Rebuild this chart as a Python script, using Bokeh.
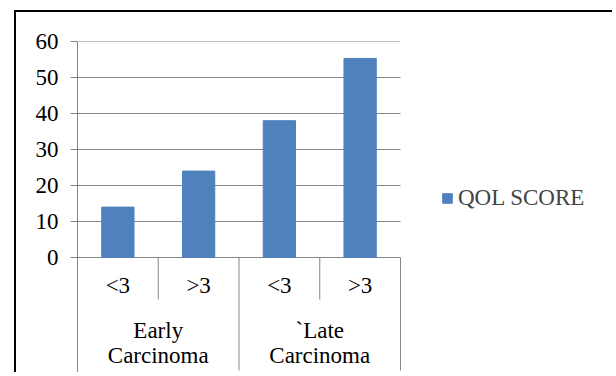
from bokeh.plotting import figure
from bokeh.models import Range1d, FixedTicker, Legend, LegendItem, Label
from bokeh.embed import file_html
from bokeh.resources import INLINE

# ---- data ----
groups = ["Early\nCarcinoma", "`Late\nCarcinoma"]
subcats = ["<3", ">3", "<3", ">3"]
qol_score = [14, 24, 38, 55.3]
y_ticks = [0, 10, 20, 30, 40, 50, 60]
series_name = "QOL SCORE"

# ---- layout ----
W, H = 612, 372
LEFT, TOP = 77, 41
FRAME_RIGHT = 400          # right end of the category area
PX_PER_UNIT = 216 / 60.0
frame_h = H - TOP
ymin = y_ticks[-1] - frame_h / PX_PER_UNIT
GRAY = "#868686"
FONT = "Times New Roman, Liberation Serif, serif"
FS = "23px"

n = len(subcats)
cat_px = (FRAME_RIGHT - LEFT) / n
x_end = (W - LEFT) / cat_px
centers = [i + 0.5 for i in range(n)]
per_group = n // len(groups)
group_centers = [g * per_group + per_group / 2 for g in range(len(groups))]
group_bounds = [g * per_group for g in range(len(groups) + 1)]
sub_bounds = [i for i in range(1, n) if i % per_group != 0]

p = figure(width=W, height=H, output_backend="svg", toolbar_location=None,
           x_range=Range1d(0, x_end), y_range=Range1d(ymin, y_ticks[-1]),
           x_axis_type=None, min_border_left=LEFT, min_border_right=0,
           min_border_top=TOP, min_border_bottom=0)
p.outline_line_color = None
p.border_fill_color = None
p.background_fill_color = None
p.styles = {
    "background": "linear-gradient(#000,#000) 14px 10px / 2px 100% no-repeat, "
                  "linear-gradient(#000,#000) 14px 10px / 100% 2px no-repeat, #fff"
}
p.xgrid.visible = False
p.ygrid.visible = False

# horizontal gridlines limited to the category area
p.segment(x0=[0] * len(y_ticks), y0=y_ticks, x1=[n] * len(y_ticks), y1=y_ticks,
          line_color=GRAY, line_width=1)

ax = p.yaxis[0]
ax.ticker = FixedTicker(ticks=y_ticks)
ax.axis_line_color = GRAY
ax.major_tick_line_color = GRAY
ax.major_tick_out = 7
ax.major_tick_in = 0
ax.minor_tick_line_color = None
ax.major_label_text_font = FONT
ax.major_label_text_font_size = FS
ax.major_label_text_color = "black"
ax.major_label_standoff = 12

bars = p.vbar(x=centers, top=qol_score, bottom=0, width=0.4,
              fill_color="#4F81BD", line_color="#4F81BD")

# category separators
sub_depth = 42 / PX_PER_UNIT
group_depth = 113 / PX_PER_UNIT
p.segment(x0=group_bounds, y0=[0] * len(group_bounds), x1=group_bounds,
          y1=[-group_depth] * len(group_bounds), line_color=GRAY, line_width=1)
p.segment(x0=sub_bounds, y0=[0] * len(sub_bounds), x1=sub_bounds,
          y1=[-sub_depth] * len(sub_bounds), line_color=GRAY, line_width=1)

# category labels (two levels)
for xc, t in zip(centers, subcats):
    p.add_layout(Label(x=xc, y=-28 / PX_PER_UNIT, text=t,
                       text_align="center", text_baseline="middle",
                       text_font=FONT, text_font_size=FS, text_color="black"))
for xc, t in zip(group_centers, groups):
    p.add_layout(Label(x=xc, y=-85 / PX_PER_UNIT, text=t,
                       text_align="center", text_baseline="middle",
                       text_line_height=1.0,
                       text_font=FONT, text_font_size=FS, text_color="black"))

legend = Legend(items=[LegendItem(label=series_name, renderers=[bars])],
                location=(364, 161), padding=0, margin=0, spacing=0,
                glyph_width=12, glyph_height=12, label_standoff=5,
                label_text_font=FONT, label_text_font_size=FS,
                label_text_baseline="middle",
                border_line_color=None, background_fill_alpha=0)
p.add_layout(legend)

open("out.html", "w").write(file_html(p, INLINE))
